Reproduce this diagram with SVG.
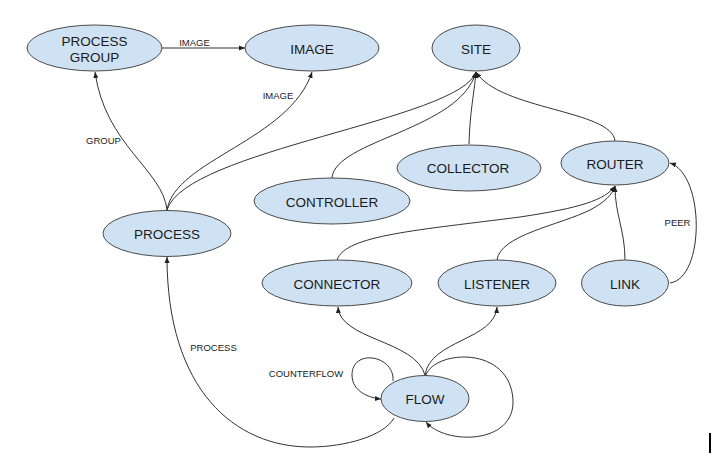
<svg xmlns="http://www.w3.org/2000/svg" width="712" height="466" viewBox="0 0 712 466">
<defs>
<style>
.n ellipse{fill:#cfe2f3;stroke:#4a4a4a;stroke-width:1}
.n text{font-family:"Liberation Sans",Arial,sans-serif;font-size:13.5px;fill:#1a1a1a;text-anchor:middle}
.e path{fill:none;stroke:#333;stroke-width:1}
.e path.a{marker-end:url(#arr)}
.lbl{font-family:"Liberation Sans",Arial,sans-serif;font-size:9.5px;fill:#1a1a1a;text-anchor:middle}
</style>
<marker id="arr" markerUnits="userSpaceOnUse" markerWidth="7" markerHeight="6" refX="6" refY="3" orient="auto">
<path d="M0,0.5 L6,3 L0,5.5 z" fill="#222"/>
</marker>
</defs>
<rect width="712" height="466" fill="#fff"/>
<g id="connectors" class="e">
<path class="a" d="M162,48 L245,48"/>
<path class="a" d="M167,210 C163,170 105,145 95,72"/>
<path class="a" d="M167,210 C175,160 290,140 312,72"/>
<path class="a" d="M167,210 C185,150 460,120 476,72"/>
<path class="a" d="M332,178 C335,140 460,130 476,72"/>
<path class="a" d="M469,144 C470,110 474,95 476,72"/>
<path class="a" d="M615,141 C612,110 500,110 476,72"/>
<path class="a" d="M337,260 C345,235 420,230 520,217 C580,208 605,200 615,186"/>
<path class="a" d="M497,260 C500,235 560,225 590,210 C605,202 612,195 615,186"/>
<path class="a" d="M625,260 C625,230 615,215 615,186"/>
<path class="a" d="M670,283 C705,278 705,175 670,163"/>
<path class="a" d="M425,375 C415,340 340,340 338,307"/>
<path class="a" d="M425,375 C430,340 495,340 497,307"/>
<path class="a" d="M393,381 C395,355 352,348 352,375 C352,392 370,398 381,399"/>
<path class="a" d="M426,375 C435,350 510,345 513,400 C515,445 445,445 426,422"/>
<path class="a" d="M394,418 C384,436 345,447 310,447 C235,447 167,390 167,257"/>
<text class="lbl" x="194.5" y="46">IMAGE</text>
<text class="lbl" x="103.5" y="144">GROUP</text>
<text class="lbl" x="278" y="99">IMAGE</text>
<text class="lbl" x="677.5" y="226">PEER</text>
<text class="lbl" x="306" y="377">COUNTERFLOW</text>
<text class="lbl" x="213.5" y="351">PROCESS</text>
</g>
<g id="process-group" class="n"><ellipse cx="94.5" cy="48" rx="67.5" ry="23"/><text x="94.5" y="45.5">PROCESS</text><text x="94.5" y="62">GROUP</text></g>
<g id="image" class="n"><ellipse cx="312" cy="48" rx="67" ry="23"/><text x="312" y="54">IMAGE</text></g>
<g id="site" class="n"><ellipse cx="476" cy="48" rx="44" ry="23"/><text x="476" y="54">SITE</text></g>
<g id="router" class="n"><ellipse cx="615" cy="163" rx="54" ry="22"/><text x="615" y="169">ROUTER</text></g>
<g id="collector" class="n"><ellipse cx="469" cy="168" rx="72" ry="23"/><text x="468" y="173">COLLECTOR</text></g>
<g id="controller" class="n"><ellipse cx="332" cy="201" rx="78" ry="23"/><text x="332" y="207">CONTROLLER</text></g>
<g id="process" class="n"><ellipse cx="167" cy="233.5" rx="64" ry="23"/><text x="167" y="239">PROCESS</text></g>
<g id="connector" class="n"><ellipse cx="337" cy="283" rx="75" ry="23"/><text x="337" y="289">CONNECTOR</text></g>
<g id="listener" class="n"><ellipse cx="497" cy="283" rx="59" ry="23"/><text x="497" y="289">LISTENER</text></g>
<g id="link" class="n"><ellipse cx="625" cy="283" rx="43.5" ry="23"/><text x="625" y="289">LINK</text></g>
<g id="flow" class="n"><ellipse cx="425" cy="398.5" rx="44" ry="23"/><text x="425" y="404">FLOW</text></g>
<rect x="709" y="433" width="2" height="20" fill="#000"/>
</svg>
